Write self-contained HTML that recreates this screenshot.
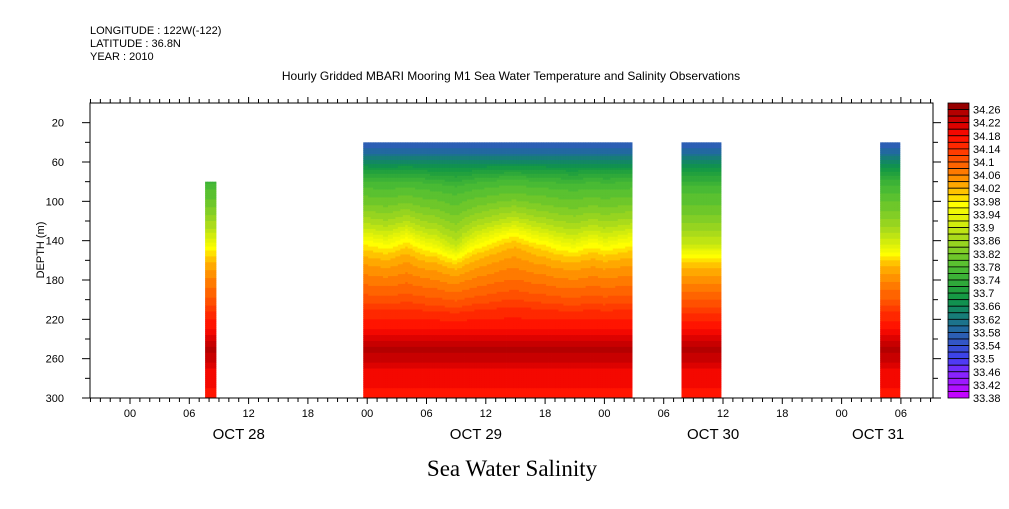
<!DOCTYPE html>
<html><head><meta charset="utf-8"><style>
body{margin:0;background:#fff;width:1009px;height:504px;overflow:hidden;font-family:"Liberation Sans",sans-serif}
svg text{font-family:"Liberation Sans",sans-serif;fill:#000}
</style></head><body>
<svg id="chart" width="1009" height="504" viewBox="0 0 1009 504" xmlns="http://www.w3.org/2000/svg">
<text x="90" y="34" font-size="11">LONGITUDE : 122W(-122)</text>
<text x="90" y="47" font-size="11">LATITUDE : 36.8N</text>
<text x="90" y="60" font-size="11">YEAR : 2010</text>
<text x="511" y="80" font-size="12" text-anchor="middle">Hourly Gridded MBARI Mooring M1 Sea Water Temperature and Salinity Observations</text>
<text transform="translate(44,250) rotate(-90)" font-size="11" text-anchor="middle">DEPTH (m)</text>
<text x="512" y="476" font-size="23" text-anchor="middle" style="font-family:'Liberation Serif',serif">Sea Water Salinity</text>
<g id="cells"></g>
<g id="axes"></g>
<g id="cbar"></g>
</svg>
<script>
// ---- data ----
const depths = [40,50,60,70,80,90,100,110,120,130,140,150,160,170,180,190,200,210,220,230,240,250,260,270,280,290,300];
const baseProfile = [33.56,33.59,33.65,33.71,33.76,33.79,33.81,33.84,33.87,33.91,33.96,34.00,34.03,34.05,34.07,34.09,34.11,34.14,34.16,34.18,34.21,34.25,34.23,34.20,34.19,34.18,34.17];
const blockStart = [7.6, 23.6, 55.8, 75.9];
const blockEnd = [8.7, 50.8, 59.8, 77.9];
const blockTop = [80, 40, 40, 40];
// vertical shift of mid-depth isolines (m) for the main block, hourly from hour 24 to 51
const mainShift = [0,2,4,0,-4,2,6,8,14,18,10,4,0,-4,-8,-10,-6,-2,0,4,6,8,4,2,6,4,2,0];
const blockShift = [6, 0, 16, 12];
const levels = [33.38,33.40,33.42,33.44,33.46,33.48,33.50,33.52,33.54,33.56,33.58,33.60,33.62,33.64,33.66,33.68,33.70,33.72,33.74,33.76,33.78,33.80,33.82,33.84,33.86,33.88,33.90,33.92,33.94,33.96,33.98,34.00,34.02,34.04,34.06,34.08,34.10,34.12,34.14,34.16,34.18,34.20,34.22,34.24,34.26];
const cbLabels = ["34.26","34.22","34.18","34.14","34.1","34.06","34.02","33.98","33.94","33.9","33.86","33.82","33.78","33.74","33.7","33.66","33.62","33.58","33.54","33.5","33.46","33.42","33.38"];
const hourLabels = ["00","06","12","18","00","06","12","18","00","06","12","18","00","06"];
const hourTicks = [0,6,12,18,24,30,36,42,48,54,60,66,72,78];
const dayLabels = ["OCT 28","OCT 29","OCT 30","OCT 31"];
const dayCenters = [11,35,59,75.7];
const depthTicks = [20,60,100,140,180,220,260,300];

// ---- scales ----
const X0=90,X1=933,Y0=103,Y1=398;
const xs = h => 130 + h*(59.3/6);
const ys = d => Y0 + d*(Y1-Y0)/300;
const stops=[[33.38,[204,0,255]],[33.46,[128,40,255]],[33.50,[64,64,240]],[33.56,[48,90,190]],[33.60,[30,110,150]],[33.64,[20,130,110]],[33.68,[16,150,70]],[33.72,[40,165,60]],[33.78,[80,190,50]],[33.86,[160,215,30]],[33.92,[220,240,10]],[33.97,[255,255,0]],[34.02,[255,180,0]],[34.08,[255,110,0]],[34.14,[255,50,0]],[34.18,[255,10,0]],[34.22,[210,0,0]],[34.28,[150,0,0]]];
function col(v){
  let i=0; while(i<stops.length-2 && v>stops[i+1][0]) i++;
  const a=stops[i],b=stops[i+1]; let t=(v-a[0])/(b[0]-a[0]); t=Math.max(0,Math.min(1,t));
  const c=a[1].map((x,k)=>Math.round(x+(b[1][k]-x)*t)); return `rgb(${c})`;
}
function quant(v){let k=0;while(k<levels.length&&v>=levels[k])k++;return k<levels.length?(k>0?(levels[k-1]+levels[k])/2:levels[0]):34.28;}
function profileAt(d){
  if(d<=depths[0])return baseProfile[0];
  for(let i=0;i<depths.length-1;i++){if(d<=depths[i+1]){const t=(d-depths[i])/(depths[i+1]-depths[i]);return baseProfile[i]+(baseProfile[i+1]-baseProfile[i])*t;}}
  return baseProfile[baseProfile.length-1];
}
function weight(d){return Math.max(0,1-Math.abs(d-145)/85);}
const NS="http://www.w3.org/2000/svg";
function mk(tag,attrs,parent){const e=document.createElementNS(NS,tag);for(const k in attrs)e.setAttribute(k,attrs[k]);parent.appendChild(e);return e;}

// ---- cells ----
const cells=document.getElementById('cells');
for(let b=0;b<blockStart.length;b++){
  const dh=0.25,dd=2;
  for(let h=blockStart[b];h<blockEnd[b]-1e-6;h+=dh){
    const he=Math.min(h+dh,blockEnd[b]);
    let sh=blockShift[b];
    if(b===1){const p=h+dh/2-24;const i=Math.max(0,Math.min(mainShift.length-2,Math.floor(p)));const t=Math.max(0,Math.min(1,p-i));sh=mainShift[i]+(mainShift[i+1]-mainShift[i])*t;}
    for(let d=blockTop[b];d<300;d+=dd){
      const dm=d+dd/2;
      const v=profileAt(dm-sh*weight(dm));
      const r=mk('rect',{x:xs(h).toFixed(2),y:ys(d).toFixed(2),width:(xs(he)-xs(h)+0.4).toFixed(2),height:(ys(d+dd)-ys(d)+0.4).toFixed(2),fill:col(quant(v))},cells);
      
      
    }
  }
}

// ---- axes ----
const ax=document.getElementById('axes');
const frame=mk('rect',{x:X0,y:Y0,width:X1-X0,height:Y1-Y0,fill:'none',stroke:'#000','stroke-width':1},ax);


for(let h=-4;h<=81;h++){
  const x=xs(h); if(x<X0||x>X1)continue;
  const major=(h%6===0); const L=major?6:4;
  mk('line',{x1:x,y1:Y1,x2:x,y2:Y1+L,stroke:'#000'},ax);
  mk('line',{x1:x,y1:Y0,x2:x,y2:Y0-L,stroke:'#000'},ax);
}
hourTicks.forEach((h,i)=>{const t=mk('text',{x:xs(h),y:417,'font-size':11,'text-anchor':'middle'},ax);t.textContent=hourLabels[i];
  
  });
dayCenters.forEach((h,i)=>{const t=mk('text',{x:xs(h),y:439,'font-size':15,'text-anchor':'middle'},ax);t.textContent=dayLabels[i];
  
  });
for(let d=20;d<=300;d+=20){const y=ys(d);const major=depthTicks.includes(d);
  mk('line',{x1:X0-(major?8:5),y1:y,x2:X0,y2:y,stroke:'#000'},ax);
  mk('line',{x1:X1,y1:y,x2:X1+(major?8:5),y2:y,stroke:'#000'},ax);}
depthTicks.forEach(d=>{const t=mk('text',{x:X0-26,y:ys(d)+4,'font-size':11,'text-anchor':'end'},ax);t.textContent=d;
  
  });

// ---- colorbar ----
const cb=document.getElementById('cbar');
const n=levels.length; const bh=(Y1-Y0)/n;
for(let i=0;i<n;i++){
  const v=(i===0)?34.28:(levels[n-i]+levels[n-i-1])/2;
  const r=mk('rect',{x:948,y:(Y0+i*bh).toFixed(2),width:21,height:bh.toFixed(2),fill:col(v),stroke:'#000','stroke-width':0.8},cb);
  
  
}
cbLabels.forEach((s,i)=>{const t=mk('text',{x:973,y:(Y0+bh*(1+2*i)+4).toFixed(1),'font-size':11},cb);t.textContent=s;
  
  });
</script>
</body></html>
